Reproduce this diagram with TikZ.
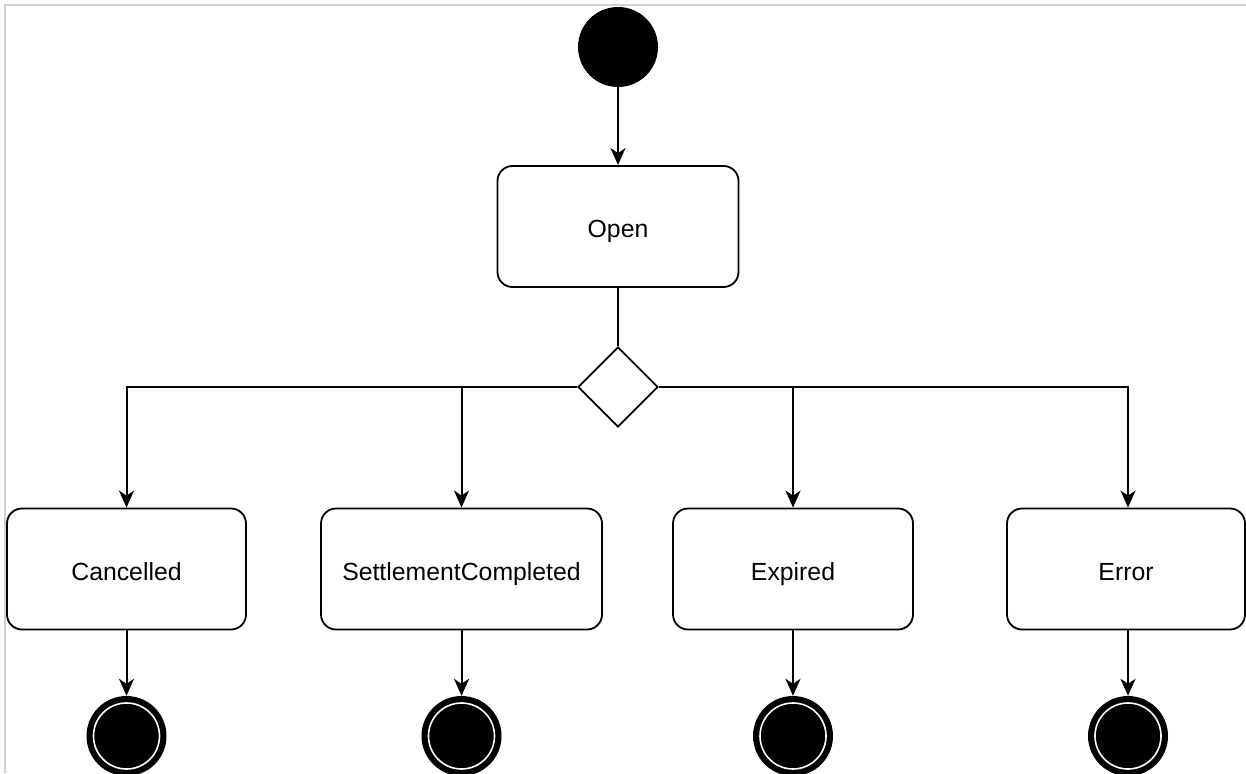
\documentclass[tikz,border=0pt]{standalone}
\usepackage{fontspec}
\setmainfont{Liberation Sans}
\usetikzlibrary{arrows.meta,shapes.geometric}

\tikzset{
  state/.style={draw=black, line width=1.8pt, rounded corners=15pt, fill=white,
    minimum height=121pt, inner sep=0pt, text height=22pt, text depth=0pt,
    font=\fontsize{24.8}{28}\selectfont},
  initial/.style={circle, fill=black, minimum size=80pt, inner sep=0pt},
  final/.style={circle, fill=black, minimum size=80pt, inner sep=0pt,
    path picture={\draw[white, line width=1.6pt]
      (path picture bounding box.center) circle (33pt);}},
  choice/.style={diamond, draw=black, line width=1.8pt, fill=white,
    minimum width=80pt, minimum height=80pt, inner sep=0pt},
  flow/.style={draw=black, line width=2pt,
    -{Stealth[length=17pt, width=15pt, inset=5pt]}},
  link/.style={draw=black, line width=2pt},
}

\begin{document}
\begin{tikzpicture}[x=1pt, y=-1pt]
  \useasboundingbox (0,0) rectangle (1246,773);
  \begin{scope}
    \clip (0,0) rectangle (1246,773);

    % frame edges
    \draw[black!18, line width=2pt] (5,773) -- (5,5) -- (1246,5);

    % states
    \node[initial] (start) at (618,47) {};
    \node[state, minimum width=241pt] (open) at (618,226.5) {Open};
    \node[choice] (dec) at (618,387) {};

    \node[state, minimum width=239pt] (cancel) at (126.5,569) {Cancelled};
    \node[state, minimum width=281pt] (settle) at (461.5,569) {SettlementCompleted};
    \node[state, minimum width=240pt] (expired) at (793,569) {Expired};
    \node[state, minimum width=238pt] (error) at (1126,569) {Error};

    \node[final] (endA) at (126.5,736) {};
    \node[final] (endB) at (461.5,736) {};
    \node[final] (endC) at (793,736) {};
    \node[final] (endD) at (1128,736) {};

    % transitions
    \draw[flow] (start) -- (open);
    \draw[link] (open) -- (dec);
    \draw[flow] (dec.west) -| (cancel.north);
    \draw[flow] (dec.west) -| (settle.north);
    \draw[flow] (dec.east) -| (expired.north);
    \draw[flow] (dec.east) -| ([xshift=2pt]error.north);

    \draw[flow] (cancel) -- (endA);
    \draw[flow] (settle) -- (endB);
    \draw[flow] (expired) -- (endC);
    \draw[flow] ([xshift=2pt]error.south) -- (endD);
  \end{scope}
\end{tikzpicture}
\end{document}
